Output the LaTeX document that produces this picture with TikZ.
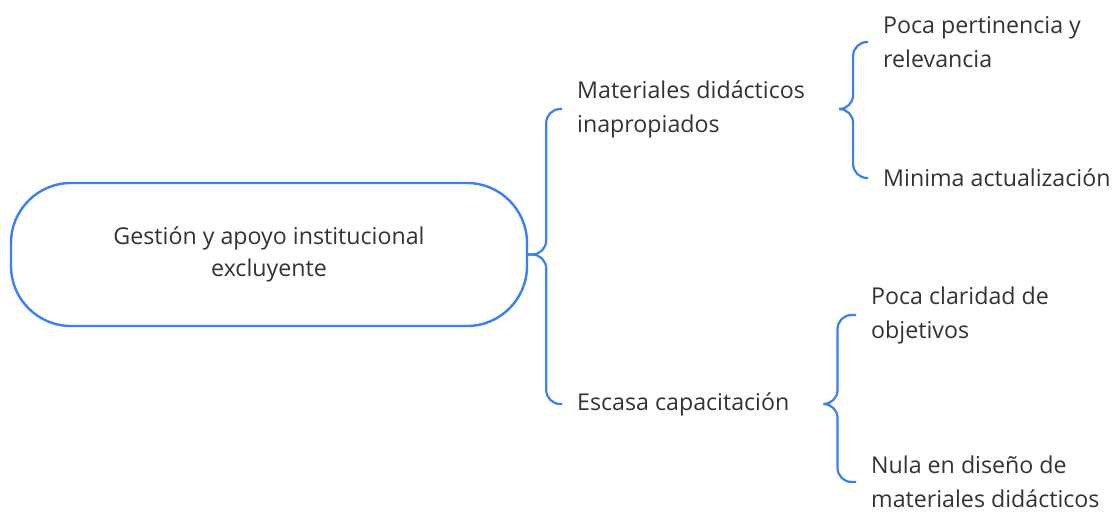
\documentclass[tikz,border=0pt]{standalone}
\usepackage{fontspec}
\setmainfont{Open Sans}
\definecolor{brace}{HTML}{3B7FF2}
\definecolor{txt}{HTML}{333333}
\tikzset{
  topic/.style={draw=brace, line width=2.4pt, rounded corners=60pt, minimum width=516pt, minimum height=143pt, align=center, text=txt, font=\fontsize{23.2}{32}\selectfont},
  sub/.style={anchor=west, inner sep=0pt, align=left, text=txt, font=\fontsize{23.2}{34}\selectfont},
  link/.style={draw=brace, line width=2.2pt, rounded corners=14pt}
}
\begin{document}
\begin{tikzpicture}[x=1pt,y=-1pt]
	\useasboundingbox (0,0) rectangle (1120,512);
	\node[topic] (root) at (269,254.5) {Gestión y apoyo institucional\\excluyente};
	\node[sub] (mat) at (577,109) {Materiales didácticos\\inapropiados};
	\node[sub] (esc) at (577,404) {Escasa capacitación};
	\node[sub] (pert) at (883,42) {Poca pertinencia y\\relevancia};
	\node[sub] (mini) at (883,178) {Minima actualización};
	\node[sub] (clar) at (871,315) {Poca claridad de\\objetivos};
	\node[sub] (nula) at (871,482) {Nula en diseño de\\materiales didácticos};
	\draw[link] (root.east) -- ++(18,0) |- ([xshift=-15pt]mat.west);
	\draw[link] (root.east) -- ++(18,0) |- ([xshift=-15pt]esc.west);
	\draw[link] ([xshift=36pt]mat.east) -- ++(12,0) |- ([xshift=-15pt]pert.west);
	\draw[link] ([xshift=36pt]mat.east) -- ++(12,0) |- ([xshift=-15pt]mini.west);
	\draw[link] ([xshift=36pt]esc.east) -- ++(12,0) |- ([xshift=-15pt]clar.west);
	\draw[link] ([xshift=36pt]esc.east) -- ++(12,0) |- ([xshift=-15pt]nula.west);
\end{tikzpicture}
\end{document}
